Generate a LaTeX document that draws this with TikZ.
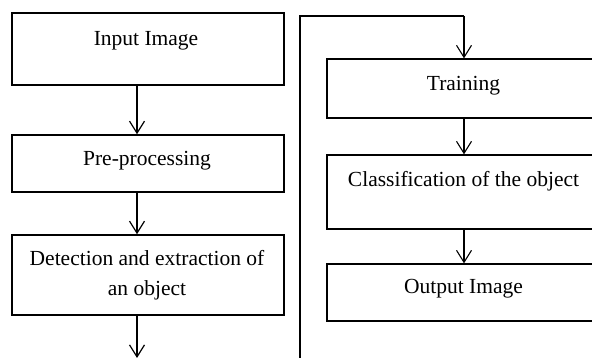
\documentclass[tikz,border=0pt]{standalone}
\usepackage{fontspec}
\setmainfont{Liberation Serif}
\usetikzlibrary{arrows.meta}
\begin{document}
\begin{tikzpicture}[x=1pt,y=-1pt,
  lbox/.style={draw=black,line width=1.5pt,rectangle,inner sep=0pt,minimum width=272pt},
  rbox/.style={draw=black,line width=1.3pt,rectangle,inner sep=0pt,minimum width=273pt},
  txt/.style={font=\fontsize{21.5}{30}\selectfont,align=center,inner sep=0pt},
  larr/.style={line width=1.8pt,-{Straight Barb[length=12pt,width=15pt,line width=1.2pt]}},
  rarr/.style={line width=1.4pt,-{Straight Barb[length=12pt,width=15pt,line width=1.1pt]}},
  fb/.style={line width=1.3pt}]
\useasboundingbox (0,0) rectangle (592,358);
\clip (0,0) rectangle (592,358);
\fill[white] (0,0) rectangle (592,358);
% left column
\node[lbox,minimum height=72pt] (in) at (148,49) {};
\node[txt] (inT) at (146,41) {Input Image};
\node[lbox,minimum height=57pt] (pre) at (148,163.5) {};
\node[txt] (preT) at (147,161) {Pre-processing};
\node[lbox,minimum height=80pt] (det) at (148,275) {};
\node[txt] (detT) at (147,275) {Detection and extraction of\\an object};
\coordinate (ax) at (137,0);
\coordinate (lend) at (137,358);
\draw[larr] (in.south -| ax) -- (pre.north -| ax);
\draw[larr] (pre.south -| ax) -- (det.north -| ax);
\draw[larr] (det.south -| ax) -- (lend);
% right column
\node[rbox,minimum height=59pt] (tr) at (463.5,88.5) {};
\node[txt] (trT) at (463.5,86) {Training};
\node[rbox,minimum height=74pt] (cl) at (463.5,192) {};
\node[txt] (clT) at (463.5,181) {Classification of the object};
\node[rbox,minimum height=57pt] (out) at (463.5,292.5) {};
\node[txt] (outT) at (463.5,289) {Output Image};
\coordinate (fstart) at (300,358);
\coordinate (fcorner) at (300,16);
\coordinate (ftop) at (464,16);
\coordinate (rx) at (464,0);
\draw[fb] (fstart) -- (fcorner) -- (ftop);
\draw[rarr] (ftop) -- (tr.north -| rx);
\draw[rarr] (tr.south -| rx) -- (cl.north -| rx);
\draw[rarr] (cl.south -| rx) -- (out.north -| rx);
\end{tikzpicture}
\end{document}
